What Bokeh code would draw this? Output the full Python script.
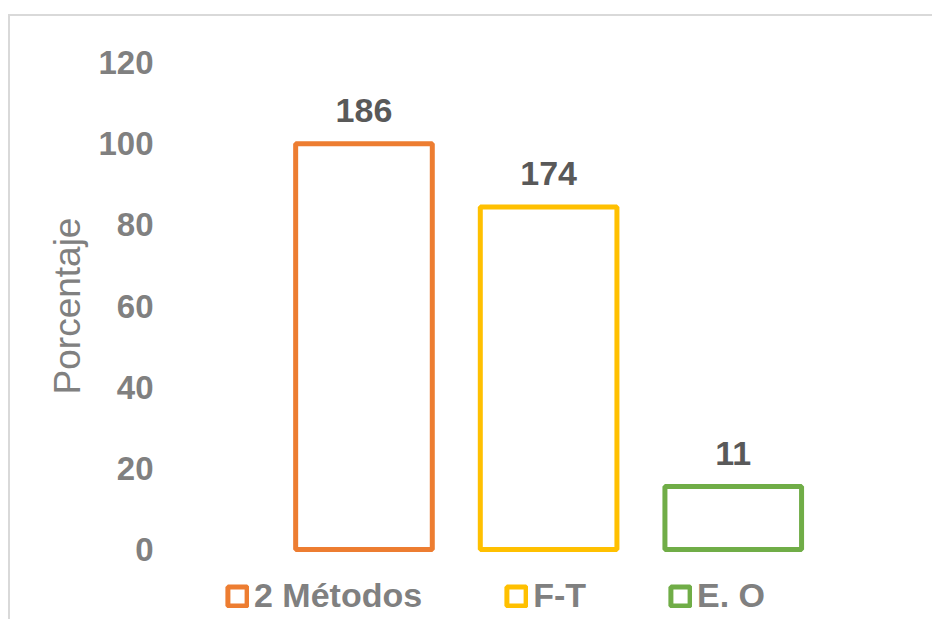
from bokeh.plotting import figure
from bokeh.models import ColumnDataSource, Range1d, Legend, LegendItem, FixedTicker
from bokeh.core.properties import value
from bokeh.embed import file_html
from bokeh.resources import INLINE

categories = ["2 Métodos", "F-T", "E. O"]
percentages = [100.0, 84.4, 15.5]
counts = ["186", "174", "11"]
colors = ["#ED7D31", "#FFC000", "#70AD47"]
y_ticks = [0, 20, 40, 60, 80, 100, 120]
y_title = "Porcentaje"

FONT = "Liberation Sans"

src = ColumnDataSource(dict(pos=list(range(len(categories))), cat=categories,
                            val=percentages, lab=counts, col=colors))

# frame extends below zero to hold the legend (no axis line / grid is drawn there)
p = figure(width=924, height=605, output_backend="svg", toolbar_location=None,
           x_range=Range1d(-0.75, 3.09), y_range=Range1d(-17.74, 120), x_axis_location=None,
           min_border_left=215, min_border_right=0, min_border_top=46, min_border_bottom=0)
p.styles = {"margin-left": "8px", "margin-top": "14px",
            "border-left": "2px solid #d9d9d9", "border-top": "2px solid #d9d9d9"}

p.outline_line_color = None
p.grid.visible = False
p.background_fill_color = "white"
p.border_fill_color = "white"

bars = p.vbar(x="pos", top="val", bottom=0, width=0.74, source=src,
              fill_color="white", line_color="col", line_width=5)

p.text(x="pos", y="val", text="lab", source=src, text_align="center",
       text_baseline="alphabetic", y_offset=-33, text_font=value(FONT),
       text_font_style="bold", text_font_size="34px", text_color="#595959")

ax = p.yaxis[0]
ax.ticker = FixedTicker(ticks=y_ticks)
ax.axis_line_color = None
ax.major_tick_line_color = None
ax.minor_tick_line_color = None
ax.major_label_text_font = FONT
ax.major_label_text_font_style = "bold"
ax.major_label_text_font_size = "33px"
ax.major_label_text_color = "#808080"
ax.major_label_standoff = 66
ax.axis_label = "\u00a0" * 7 + y_title
ax.axis_label_text_font = FONT
ax.axis_label_text_font_style = "normal"
ax.axis_label_text_font_size = "37px"
ax.axis_label_text_color = "#808080"
ax.axis_label_standoff = 7

items = [LegendItem(label=categories[i], renderers=[bars], index=i) for i in range(len(categories))]
legend = Legend(items=items, orientation="horizontal", location=(0, 6),
                padding=0, margin=0, spacing=82, label_standoff=5,
                glyph_width=24, glyph_height=24,
                label_text_font=FONT, label_text_font_style="bold",
                label_text_font_size="34px", label_text_color="#808080",
                border_line_color=None, background_fill_alpha=0)
p.add_layout(legend, "center")

open("out.html", "w").write(file_html(p, INLINE))
